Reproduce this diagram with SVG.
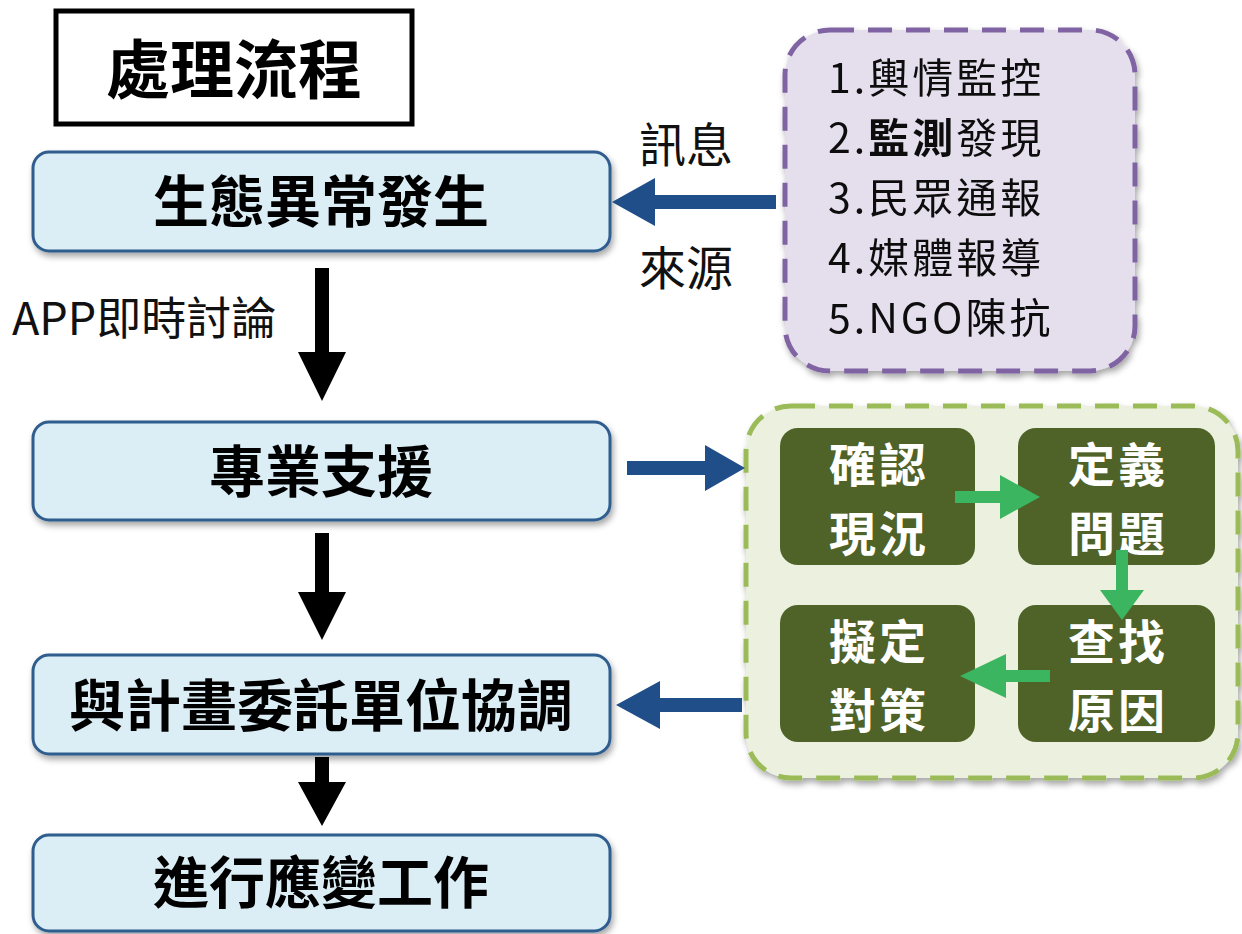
<svg xmlns="http://www.w3.org/2000/svg" width="1242" height="934" viewBox="0 0 1242 934">
<defs>
<filter id="sh" x="-10%" y="-10%" width="120%" height="130%"><feDropShadow dx="2" dy="4" stdDeviation="3" flood-color="#000" flood-opacity="0.35"/></filter>
<style>
.main{fill:#dbeef6;stroke:#2f5d8e;stroke-width:3}
.mt{font-family:"Noto Sans CJK TC","Noto Sans CJK SC",sans-serif;font-weight:700;font-size:56px;fill:#000;text-anchor:middle}
.lab{font-family:"Noto Sans CJK TC","Noto Sans CJK SC",sans-serif;font-size:47px;fill:#111}
.lst{font-family:"Noto Sans CJK TC","Noto Sans CJK SC",sans-serif;font-size:41px;letter-spacing:3px;fill:#111}
.dg{fill:#4f6228}
.gt{font-family:"Noto Sans CJK TC","Noto Sans CJK SC",sans-serif;font-weight:700;font-size:47px;letter-spacing:3px;fill:#fff;text-anchor:middle}
.blk{fill:#000}
.blu{fill:#1f4e89}
.grn{fill:#3bb560}
</style>
</defs>
<rect width="1242" height="934" fill="#fff"/>

<g id="title">
<rect x="56" y="11" width="356" height="113" fill="#fff" stroke="#000" stroke-width="5"/>
<text x="234" y="93" class="mt" style="font-size:64px">處理流程</text>
</g>

<g id="n1" filter="url(#sh)">
<rect x="33" y="152" width="577" height="99" rx="16" class="main"/>
<text x="321" y="222" class="mt">生態異常發生</text>
</g>
<g id="n2" filter="url(#sh)">
<rect x="33" y="422" width="577" height="98" rx="16" class="main"/>
<text x="321" y="492" class="mt">專業支援</text>
</g>
<g id="n3" filter="url(#sh)">
<rect x="33" y="655" width="577" height="99" rx="16" class="main"/>
<text x="321" y="726" class="mt">與計畫委託單位協調</text>
</g>
<g id="n4" filter="url(#sh)">
<rect x="33" y="835" width="577" height="96" rx="16" class="main"/>
<text x="321" y="903" class="mt">進行應變工作</text>
</g>

<g id="sources" filter="url(#sh)">
<rect x="785" y="30" width="350" height="341" rx="45" fill="#e5dfed" stroke="#8064a2" stroke-width="5" stroke-dasharray="24,14"/>
<text x="828" y="93" class="lst">1.輿情監控</text>
<text x="828" y="153" class="lst">2.<tspan font-weight="700">監測</tspan>發現</text>
<text x="828" y="213" class="lst">3.民眾通報</text>
<text x="828" y="273" class="lst">4.媒體報導</text>
<text x="828" y="333" class="lst">5.NGO陳抗</text>
</g>

<g id="analysis">
<rect x="746" y="406" width="492" height="372" rx="45" fill="#ebf1de" stroke="#9bbb59" stroke-width="5" stroke-dasharray="24,14" filter="url(#sh)"/>
<g id="s1"><rect x="780" y="428" width="195" height="137" rx="18" class="dg"/>
<text x="879" y="482" class="gt">確認</text><text x="879" y="551" class="gt">現況</text></g>
<g id="s2"><rect x="1018" y="428" width="197" height="137" rx="18" class="dg"/>
<text x="1118" y="482" class="gt">定義</text><text x="1118" y="551" class="gt">問題</text></g>
<g id="s3"><rect x="1018" y="605" width="197" height="137" rx="18" class="dg"/>
<text x="1118" y="659" class="gt">查找</text><text x="1118" y="728" class="gt">原因</text></g>
<g id="s4"><rect x="780" y="605" width="195" height="137" rx="18" class="dg"/>
<text x="879" y="659" class="gt">擬定</text><text x="879" y="728" class="gt">對策</text></g>
</g>

<g id="labels">
<text x="12" y="335" class="lab" style="font-size:45px">APP即時討論</text>
<text x="639" y="162" class="lab">訊息</text>
<text x="639" y="285" class="lab">來源</text>
</g>

<g id="connectors">
<polygon class="blk" points="315,268 329,268 329,352 346,352 322,401 298,352 315,352"/>
<polygon class="blk" points="315,533 329,533 329,592 346,592 322,640 298,592 315,592"/>
<polygon class="blk" points="315,757 329,757 329,782 346,782 322,826 298,782 315,782"/>
<polygon class="blu" points="776,195 776,209 655,209 655,226 612,202 655,178 655,195"/>
<polygon class="blu" points="627,461 705,461 705,445 745,468 705,491 705,475 627,475"/>
<polygon class="blu" points="742,698 742,712 660,712 660,729 616,705 660,681 660,698"/>
<polygon class="grn" points="955,491 1000,491 1000,475 1040,497 1000,519 1000,503 955,503"/>
<polygon class="grn" points="1116,550 1128,550 1128,590 1144,590 1122,620 1100,590 1116,590"/>
<polygon class="grn" points="1050,670 1006,670 1006,654 960,676 1006,698 1006,682 1050,682"/>
</g>
</svg>
